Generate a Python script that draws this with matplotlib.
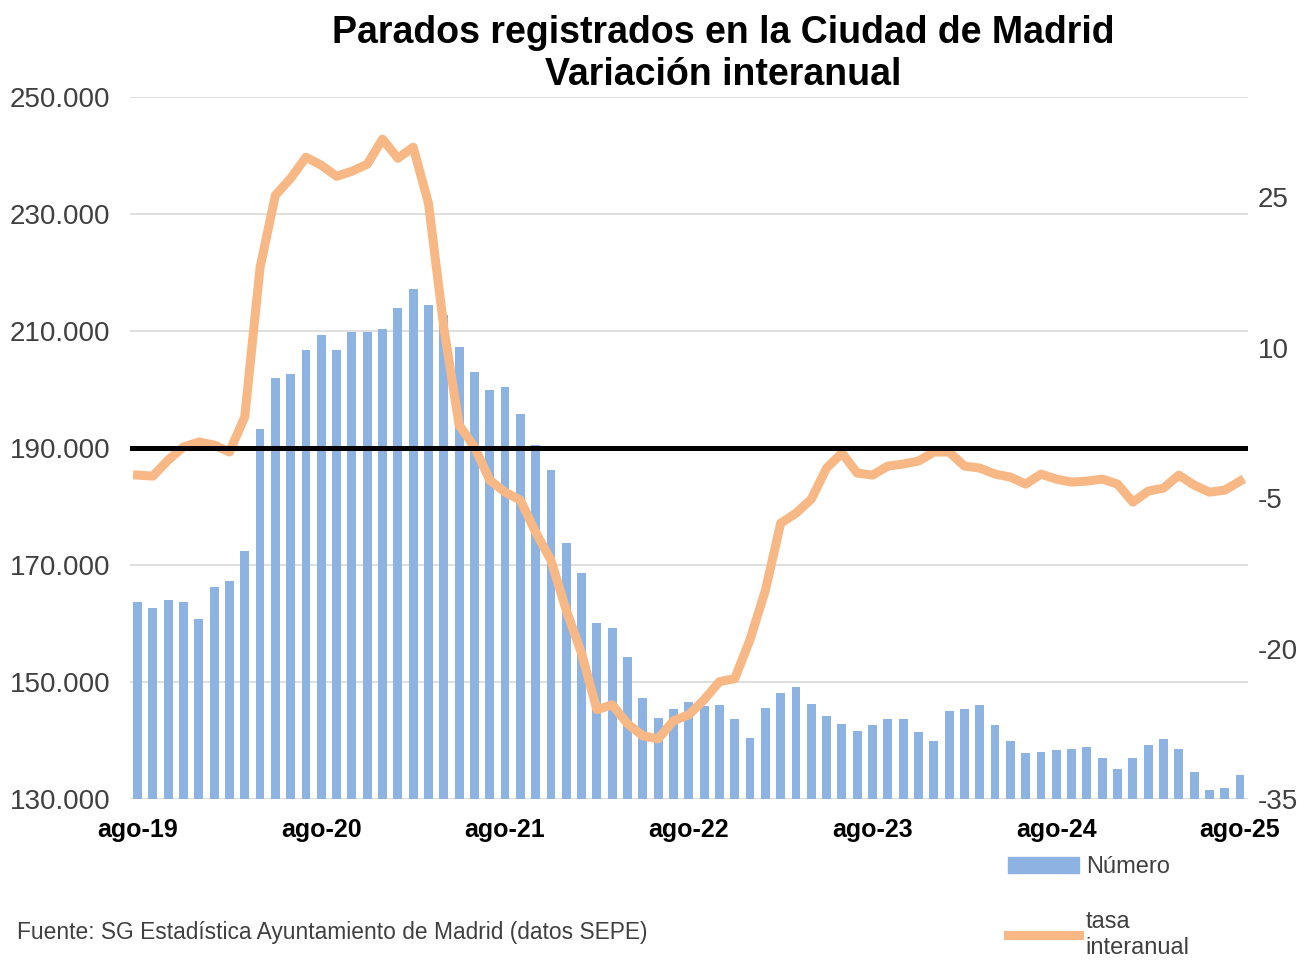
import matplotlib
matplotlib.use("Agg")
import matplotlib.pyplot as plt
from matplotlib.ticker import FuncFormatter, FixedLocator
from matplotlib.patches import Patch
from matplotlib.lines import Line2D

plt.rcParams['font.family'] = ['Liberation Sans', 'DejaVu Sans']
plt.rcParams['axes.unicode_minus'] = False

# Datos: parados registrados (ago-19 .. ago-25) y tasa interanual (%)
numero = [163600, 162600, 164100, 163600, 160800, 166300, 167300, 172400, 193200, 202000,
          202600, 206700, 209300, 206700, 209900, 209900, 210400, 214000, 217200, 214400,
          212800, 207200, 203000, 199900, 200400, 195900, 190500, 186300, 173700, 168700,
          160100, 159200, 154200, 147200, 143800, 145300, 146500, 145900, 146100, 143600,
          140400, 145600, 148200, 149100, 146300, 144200, 142900, 141700, 142600, 143600,
          143600, 141400, 139900, 145100, 145400, 146000, 142600, 139900, 137800, 138100,
          138400, 138600, 138900, 137000, 135200, 137000, 139200, 140200, 138600, 134600,
          131500, 131900, 134100]

tasa = [-2.7, -2.8, -1.2, 0.1, 0.6, 0.3, -0.4, 3.1, 18.0, 25.2,
        26.9, 29.0, 28.2, 27.1, 27.6, 28.3, 30.8, 28.9, 30.0, 24.4,
        12.0, 2.3, 0.1, -3.2, -4.4, -5.2, -8.4, -11.2, -16.2, -20.5,
        -26.1, -25.6, -27.5, -28.7, -29.0, -27.2, -26.6, -25.1, -23.3, -23.0,
        -19.1, -14.2, -7.5, -6.5, -5.1, -2.0, -0.5, -2.5, -2.7, -1.8,
        -1.6, -1.3, -0.4, -0.4, -1.8, -2.0, -2.6, -2.9, -3.6, -2.6,
        -3.1, -3.4, -3.3, -3.1, -3.6, -5.4, -4.3, -4.0, -2.7, -3.7,
        -4.4, -4.2, -3.3]

etiquetas_x = ['ago-19', 'ago-20', 'ago-21', 'ago-22', 'ago-23', 'ago-24', 'ago-25']
pos_etiquetas = [0, 12, 24, 36, 48, 60, 72]

color_barra = '#8DB3E2'
color_linea = '#F8B885'

fig = plt.figure(figsize=(13.12, 9.61), dpi=100)
ax = fig.add_axes([0.099, 0.1686, 0.852, 0.7304])
x = list(range(len(numero)))

ax.bar(x, numero, width=0.58, color=color_barra, zorder=2)
ax.set_xlim(-0.5, len(numero) - 0.5)
ax.set_ylim(130000, 250000)
ax.yaxis.set_major_locator(FixedLocator(range(130000, 250001, 20000)))
ax.yaxis.set_major_formatter(FuncFormatter(lambda v, p: f"{v:,.0f}".replace(',', '.')))
ax.grid(axis='y', color='#D9D9D9', lw=1.2, zorder=0)
ax.set_axisbelow(True)
ax.set_xticks(pos_etiquetas)
ax.set_xticklabels(etiquetas_x, fontweight='bold', fontsize=18)
ax.tick_params(axis='x', length=0, pad=14)
ax.tick_params(axis='y', length=0, pad=14, labelsize=20, labelcolor='#404040')
for s in ax.spines.values():
    s.set_visible(False)

ax2 = ax.twinx()
ax2.plot(x, tasa, color=color_linea, lw=6.5, solid_joinstyle='round', zorder=3)
ax2.axhline(0, color='black', lw=3.6, zorder=5)
ax2.set_ylim(-35, 35)
ax2.yaxis.set_major_locator(FixedLocator([-35, -20, -5, 10, 25]))
ax2.tick_params(axis='y', length=0, pad=7, labelsize=20, labelcolor='#404040')
for s in ax2.spines.values():
    s.set_visible(False)

fig.text(0.551, 0.966, 'Parados registrados en la Ciudad de Madrid', ha='center', va='center',
         fontsize=27, fontweight='bold')
fig.text(0.551, 0.922, 'Variación interanual', ha='center', va='center',
         fontsize=27, fontweight='bold')

fig.text(0.013, 0.030, 'Fuente: SG Estadística Ayuntamiento de Madrid (datos SEPE)',
         ha='left', va='center', fontsize=16.4, color='#404040')

handles = [Patch(color=color_barra), Line2D([0], [0], color=color_linea, lw=6.5)]
fig.legend(handles, ['Número', 'tasa\ninteranual'], loc='upper left',
           bbox_to_anchor=(0.761, 0.119), frameon=False, fontsize=17,
           handlelength=3.0, handletextpad=0.3, labelspacing=1.4, borderaxespad=0,
           labelcolor='#404040')

fig.savefig('out.png', dpi=100)
